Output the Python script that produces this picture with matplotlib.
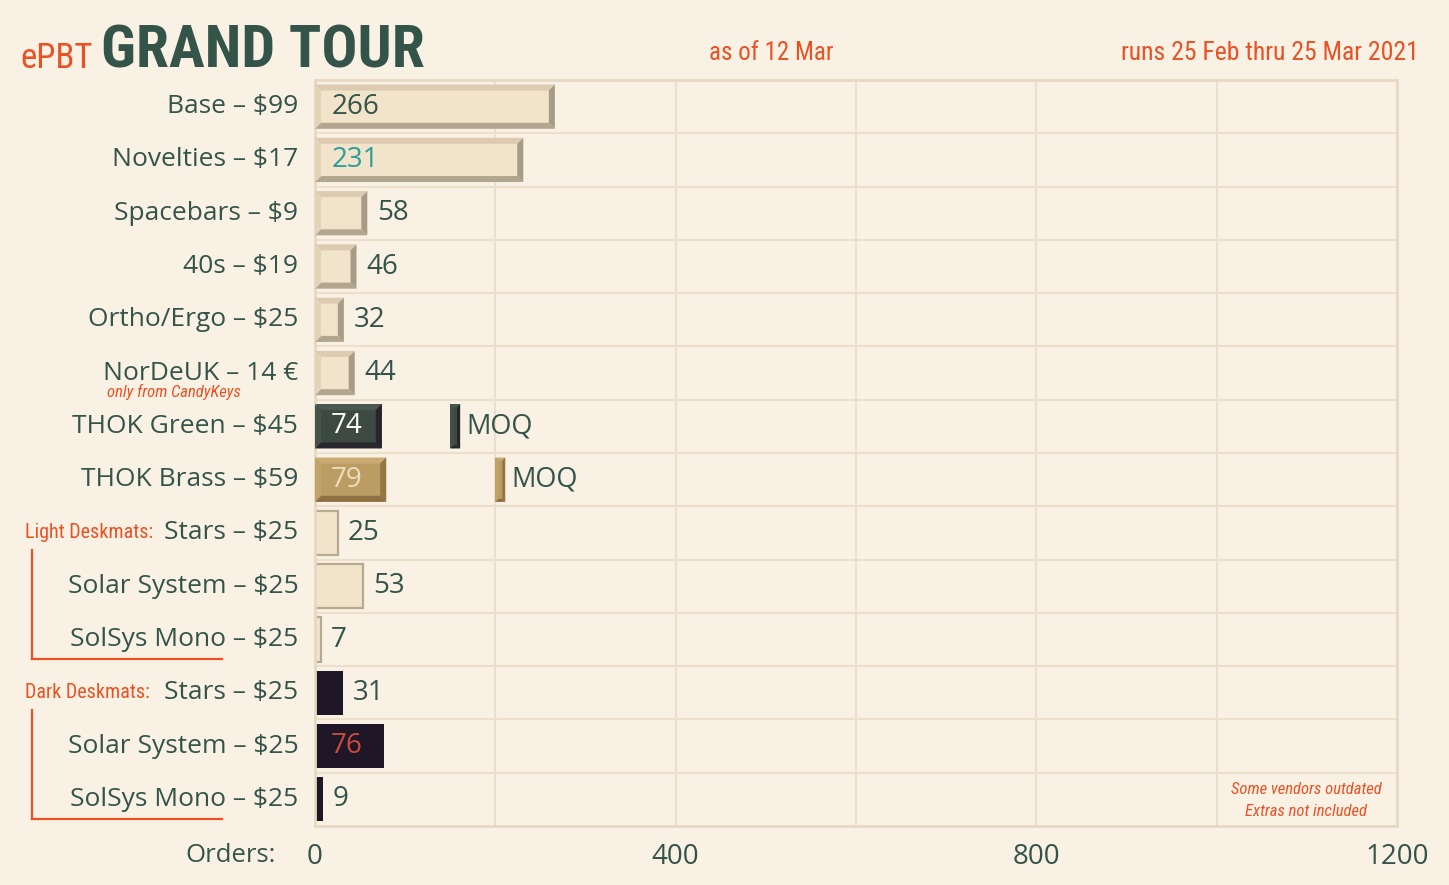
import matplotlib
matplotlib.use("Agg")
import matplotlib.pyplot as plt
import matplotlib.font_manager as fm
from matplotlib.patches import Polygon
from matplotlib.lines import Line2D
from matplotlib.transforms import ScaledTranslation

# ---------------- data ----------------
categories = ['Base – $99', 'Novelties – $17', 'Spacebars – $9', '40s – $19',
              'Ortho/Ergo – $25', 'NorDeUK – 14 €', 'THOK Green – $45',
              'THOK Brass – $59', 'Stars – $25', 'Solar System – $25',
              'SolSys Mono – $25', 'Stars – $25', 'Solar System – $25',
              'SolSys Mono – $25']
orders = [266, 231, 58, 46, 32, 44, 74, 79, 25, 53, 7, 31, 76, 9]
styles = ['light', 'light', 'light', 'light', 'light', 'light', 'green', 'brass',
          'mat_light', 'mat_light', 'mat_light', 'mat_dark', 'mat_dark', 'mat_dark']
label_inside = [True, True, False, False, False, False, True, True,
                False, False, False, False, True, False]
label_colors = ['#34544a', '#2a9d9b', '#34544a', '#34544a', '#34544a', '#34544a',
                '#ffffff', '#eddcbd', '#34544a', '#34544a', '#34544a', '#34544a',
                '#c94c3d', '#34544a']
moq_rows = [6, 7]
moq_values = [150, 200]
moq_width = 11
xticks = [0, 200, 400, 600, 800, 1000, 1200]
xticklabels = ['0', '', '400', '', '800', '', '1200']
group_labels = ['Light Deskmats:', 'Dark Deskmats:']
group_rows = [8, 11]

# ---------------- fonts ----------------
names = {f.name for f in fm.fontManager.ttflist}
def pick(cands, default='DejaVu Sans'):
    for c in cands:
        if c in names:
            return c
    return default

MAIN = pick(['Open Sans', 'Lato', 'Noto Sans'])
COND = pick(['Roboto Condensed', 'Open Sans Condensed', 'Liberation Sans Narrow',
             'Noto Sans Condensed', 'DejaVu Sans'])
STRETCH = 'condensed' if COND == 'DejaVu Sans' else 'normal'

BG = '#faf1e5'
GREEN = '#34544a'
ORANGE = '#ea5123'
GRID = '#ecdfcc'

W, H = 1449, 885
fig = plt.figure(figsize=(W / 100, H / 100), dpi=100, facecolor=BG)
ax = fig.add_axes([315 / W, 1 - 826 / H, 1082 / W, 746 / H])
ax.set_facecolor(BG)
ax.set_xlim(0, 1200)
ax.set_ylim(len(categories) - 0.5, -0.5)

# grid / ticks
ax.set_xticks(xticks)
ax.set_xticklabels(xticklabels, fontsize=20, color=GREEN, family=MAIN)
ax.set_yticks(range(len(categories)))
ax.set_yticklabels(categories, fontsize=19, color=GREEN, family=MAIN)
ax.tick_params(axis='both', length=0)
ax.tick_params(axis='y', pad=12)
ax.tick_params(axis='x', pad=12)
up = ScaledTranslation(0, 3 / 100, fig.dpi_scale_trans)
for lab in ax.get_yticklabels():
    lab.set_transform(lab.get_transform() + up)
for i in range(1, len(categories)):
    ax.axhline(i - 0.5, color=GRID, lw=1.5, zorder=0)
for xv in xticks[1:-1]:
    ax.axvline(xv, color=GRID, lw=1.5, zorder=0)
for s in ax.spines.values():
    s.set_color('#e7d8c3')
    s.set_linewidth(2)

bar_h = 0.83
palette = {
    'light': dict(face='#f2e4ca', top='#dccbb0', left='#e3d4b9', right='#a89c87', bottom='#b2a690'),
    'green': dict(face='#3c4a42', top='#4a594f', left='#45544a', right='#28232d', bottom='#2a262e'),
    'brass': dict(face='#bb9d63', top='#c9ac73', left='#c2a46b', right='#947645', bottom='#8e7142'),
}

fig.canvas.draw()
ppx = ax.bbox.width / 1200.0
ppy = ax.bbox.height / len(categories)

def bevel(y, x0, x1, h, pal, bw=6):
    bx = min(bw / ppx, (x1 - x0) / 2)
    by = bw / ppy
    yt, yb = y - h / 2, y + h / 2
    polys = [
        ([(x0, yt), (x1, yt), (x1 - bx, yt + by), (x0 + bx, yt + by)], pal['top']),
        ([(x0, yb), (x1, yb), (x1 - bx, yb - by), (x0 + bx, yb - by)], pal['bottom']),
        ([(x0, yt), (x0 + bx, yt + by), (x0 + bx, yb - by), (x0, yb)], pal['left']),
        ([(x1, yt), (x1 - bx, yt + by), (x1 - bx, yb - by), (x1, yb)], pal['right']),
    ]
    for pts, c in polys:
        ax.add_patch(Polygon(pts, closed=True, facecolor=c, edgecolor='none', zorder=3))

VAL_FS = 20
for i, (v, st) in enumerate(zip(orders, styles)):
    if st in palette:
        pal = palette[st]
        ax.barh(i, v, height=bar_h, color=pal['face'], zorder=2)
        bevel(i, 0, v, bar_h, pal)
    elif st == 'mat_light':
        ax.barh(i, v, height=bar_h, color='#f2e4ca', edgecolor='#b8a991', linewidth=1.6, zorder=2)
    else:
        ax.barh(i, v, height=bar_h, color='#1f1628', zorder=2)
    xpos = 18 if label_inside[i] else v + 11
    ax.text(xpos, i, str(v), va='center', ha='left', fontsize=VAL_FS, family=MAIN,
            color=label_colors[i], zorder=5)

# MOQ markers
for r, mv in zip(moq_rows, moq_values):
    pal = palette[styles[r]]
    ax.barh(r, moq_width, left=mv, height=bar_h, color=pal['face'], zorder=2)
    bevel(r, mv, mv + moq_width, bar_h, pal, bw=3)
    ax.text(mv + moq_width + 7, r, 'MOQ', va='center', ha='left', fontsize=19.5,
            family=MAIN, color=GREEN, zorder=5)

def ft(x, y, s, **kw):
    fig.text(x / W, 1 - y / H, s, **kw)

# titles
ft(20, 68, 'ePBT', fontsize=25, color=ORANGE, family=COND, fontstretch=STRETCH, va='baseline')
ft(101, 68, 'GRAND TOUR', fontsize=43, color=GREEN, family=COND, fontstretch=STRETCH,
   fontweight='bold', va='baseline')
ft(771, 60, 'as of 12 Mar', fontsize=18, color=ORANGE, family=COND, fontstretch=STRETCH,
   ha='center', va='baseline')
ft(1419, 60, 'runs 25 Feb thru 25 Mar 2021', fontsize=18.5, color=ORANGE, family=COND,
   fontstretch=STRETCH, ha='right', va='baseline')

# sub-notes
ft(174, 392, 'only from CandyKeys', fontsize=12, color=ORANGE, family=COND,
   fontstretch=STRETCH, style='italic', ha='center', va='center')
ft(1306, 789, 'Some vendors outdated', fontsize=12, color=ORANGE, family=COND,
   fontstretch=STRETCH, style='italic', ha='center', va='center')
ft(1306, 811, 'Extras not included', fontsize=12, color=ORANGE, family=COND,
   fontstretch=STRETCH, style='italic', ha='center', va='center')
ft(276, 856, 'Orders:', fontsize=18.5, color=GREEN, family=MAIN, ha='right', va='center')

# group labels and brackets
for lab, r in zip(group_labels, group_rows):
    ax.text(-290 / ppx, r, lab, fontsize=14.5, color=ORANGE,
            family=COND, fontstretch=STRETCH, ha='left', va='center', clip_on=False)
    ax.add_line(Line2D([-283 / ppx, -283 / ppx], [r + 0.32, r + 2.36], color=ORANGE,
                       lw=1.6, clip_on=False))
    ax.add_line(Line2D([-283 / ppx, -93 / ppx], [r + 2.36, r + 2.36], color=ORANGE,
                       lw=1.6, clip_on=False))

fig.savefig('out.png', dpi=100, facecolor=BG)
